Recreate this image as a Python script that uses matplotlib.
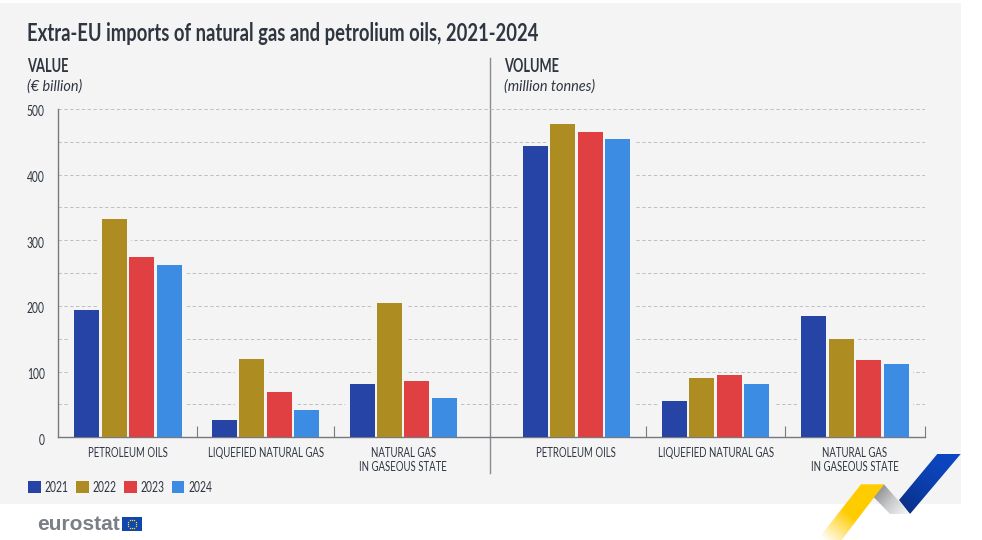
import os
import tempfile

import numpy as np
import matplotlib
matplotlib.use("Agg")
import matplotlib.pyplot as plt
from matplotlib import font_manager as fm
from matplotlib.patches import Patch, Polygon, Rectangle
from matplotlib.transforms import ScaledTranslation
from fontTools.ttLib import TTFont

YEARS = ["2021", "2022", "2023", "2024"]
CATEGORIES = ["PETROLEUM OILS", "LIQUEFIED NATURAL GAS", "NATURAL GAS\nIN GASEOUS STATE"]

# per year, in category order
VALUE_BN = {
    "2021": [194, 26, 81],
    "2022": [332, 119, 204],
    "2023": [275, 69, 86],
    "2024": [262, 42, 60],
}
VOLUME_MT = {
    "2021": [444, 56, 184],
    "2022": [477, 91, 149],
    "2023": [465, 95, 118],
    "2024": [454, 81, 112],
}

COLORS = ["#2644A6", "#AD8D22", "#E14042", "#3C8CE4"]
BG = "#F4F4F5"
INK = "#2F3640"
W, H = 982, 540
COND = "Lato Cond"
COND_TITLE = "Lato Cond Title"


def add_condensed(family, factor, **style):
    """No condensed face is installed, so squeeze a copy of Lato and register it."""
    src = fm.findfont(fm.FontProperties(family="Lato", **style))
    font = TTFont(src, fontNumber=0)
    glyf, hmtx = font["glyf"], font["hmtx"]
    for name in glyf.keys():
        g = glyf[name]
        if g.isComposite():
            for c in g.components:
                c.x = round(c.x * factor)
        elif g.numberOfContours > 0:
            g.coordinates.scale((factor, 1))
            g.coordinates.toInt()
        g.removeHinting()
    for name, (adv, lsb) in hmtx.metrics.items():
        hmtx.metrics[name] = (round(adv * factor), round(lsb * factor))
    for tag in ("fpgm", "prep", "cvt ", "hdmx", "VDMX", "LTSH", "GPOS", "kern"):
        if tag in font:
            del font[tag]
    for rec in font["name"].names:
        if rec.nameID in (1, 16):
            rec.string = family
    out = os.path.join(tempfile.mkdtemp(), os.path.basename(src))
    font.save(out)
    fm.fontManager.addfont(out)


add_condensed(COND, 0.68)
add_condensed(COND, 0.66, weight="bold")
add_condensed(COND, 0.95, style="italic")
add_condensed(COND_TITLE, 0.78, weight="bold")
plt.rcParams["font.family"] = [COND, "DejaVu Sans"]


def px_axes(fig, x0, x1, y_top, y_bot, **kw):
    return fig.add_axes([x0 / W, 1 - y_bot / H, (x1 - x0) / W, (y_bot - y_top) / H], **kw)


def draw_panel(ax, series, x_left, x_right, center0, pitch, seps, with_labels):
    ax.set_facecolor("none")
    ax.set_xlim((x_left - center0) / pitch, (x_right - center0) / pitch)
    ax.set_ylim(0, 500)
    x = np.arange(len(CATEGORIES))
    step, bar_w = 27.45 / pitch, 25 / pitch
    for i, year in enumerate(YEARS):
        # knock the gridlines out around the bars
        ax.bar(x + (i - 1.5) * step, series[year], step + 6 / pitch, color=BG, zorder=2)
    for i, (year, color) in enumerate(zip(YEARS, COLORS)):
        ax.bar(x + (i - 1.5) * step, series[year], bar_w, color=color, zorder=3)

    ax.set_yticks(np.arange(0, 501, 100))
    ax.set_yticks(np.arange(50, 500, 100), minor=True)
    ax.grid(axis="y", which="both", color="#BDBFC2", ls=(0, (3.5, 2.5)), lw=0.7, zorder=1)
    ax.set_axisbelow(True)
    ax.set_xticks(x)
    ax.set_xticklabels(CATEGORIES, fontsize=10.2, color=INK, linespacing=1.2)
    ax.set_xticks(seps, minor=True)
    ax.tick_params(axis="x", which="major", length=0, pad=7)
    ax.tick_params(axis="x", which="minor", direction="in", length=8, width=0.8, color="#77797D")
    ax.tick_params(axis="y", which="both", length=0)
    for s in ("top", "right", "left"):
        ax.spines[s].set_visible(False)
    ax.spines["bottom"].set_color("#77797D")
    ax.spines["bottom"].set_linewidth(1.0)
    if with_labels:
        ax.spines["left"].set_visible(True)
        ax.spines["left"].set_color("#77797D")
        ax.spines["left"].set_linewidth(1.0)
        ax.tick_params(axis="y", which="major", labelsize=11, labelcolor=INK, pad=9.5)
        off = ScaledTranslation(0, -2 / 100, ax.figure.dpi_scale_trans)
        for lbl in ax.get_yticklabels():
            lbl.set_transform(lbl.get_transform() + off)
    else:
        ax.tick_params(axis="y", which="both", labelleft=False)


def gradient_poly(ov, pts, colors, start, end):
    # linear gradient between two pixel points, clipped to the polygon
    pts = np.array(pts, float)
    x0, x1, y0, y1 = pts[:, 0].min(), pts[:, 0].max(), pts[:, 1].min(), pts[:, 1].max()
    xx, yy = np.meshgrid(np.linspace(x0, x1, 120), np.linspace(y0, y1, 120))
    d = np.array(end, float) - np.array(start, float)
    t = np.clip(((xx - start[0]) * d[0] + (yy - start[1]) * d[1]) / (d @ d), 0, 1)
    stops = np.array([matplotlib.colors.to_rgb(c) for c in colors])
    pos = np.linspace(0, 1, len(colors))
    img = np.dstack([np.interp(t, pos, stops[:, k]) for k in range(3)])
    im = ov.imshow(img, extent=(x0, x1, y1, y0), aspect="auto", zorder=5, interpolation="bilinear")
    im.set_clip_path(Polygon(pts, closed=True, transform=ov.transData))


fig = plt.figure(figsize=(W / 100, H / 100), dpi=100, facecolor="white")

# background layer in pixel coordinates
ov = fig.add_axes([0, 0, 1, 1], zorder=0)
ov.set_xlim(0, W)
ov.set_ylim(H, 0)
ov.axis("off")
ov.add_patch(Rectangle((0, 3), 961, 501, color=BG, lw=0, zorder=0))
ov.plot([490, 490], [58, 473], color="#8A8C90", lw=1.0, zorder=1)

ax_l = px_axes(fig, 58, 490, 109, 437.3, zorder=2)
draw_panel(ax_l, VALUE_BN, 58, 490, 128.0, 137.6, [0.5, 1.5], True)
ax_r = px_axes(fig, 490, 925.3, 109, 437.3, zorder=2)
draw_panel(ax_r, VOLUME_MT, 490, 925.3, 576.3, 139.35, [0.5, 1.5, 2.5], False)

ov.text(27, 33.5, "Extra-EU imports of natural gas and petrolium oils, 2021-2024",
        fontsize=17, fontweight="bold", color=INK, va="center", family=COND_TITLE)
ov.text(27, 66.5, "VALUE", fontsize=14, fontweight="bold", color=INK, va="center")
ov.text(27, 87, "(€ billion)", fontsize=11, style="italic", color=INK, va="center")
ov.text(504, 66.5, "VOLUME", fontsize=14, fontweight="bold", color=INK, va="center")
ov.text(504, 87, "(million tonnes)", fontsize=11, style="italic", color=INK, va="center")

handles = [Patch(facecolor=c, label=y) for c, y in zip(COLORS, YEARS)]
fig.legend(handles=handles, loc="center left", bbox_to_anchor=(28 / W, 1 - 488 / H), ncol=4,
           frameon=False, fontsize=11, labelcolor=INK, handlelength=0.85, handleheight=0.85,
           handletextpad=0.26, columnspacing=0.45, borderpad=0, borderaxespad=0)

# eurostat logo
ov.text(37.5, 524, "eurostat", fontsize=15, fontweight="bold", color="#7B7F86", va="center",
        family="Liberation Sans")
ov.add_patch(Rectangle((122, 517), 20, 14, color="#0F47AF", lw=0, zorder=3))
ang = np.arange(12) * np.pi / 6
ov.scatter(132 + 4.2 * np.cos(ang), 524 + 4.2 * np.sin(ang), s=1, color="#FFD617", lw=0, zorder=4)

# ribbon in the corner
gradient_poly(ov, [(937.3, 454), (960.7, 454), (910, 514), (899, 500)],
              ["#0C48C4", "#0B3FAE", "#0A2F86"], (950, 454), (903, 512))
gradient_poly(ov, [(884, 484.3), (910, 514), (890, 514), (873.3, 496.7)],
              ["#8F9092", "#C9CACB", "#F2F2F2"], (877, 490), (905, 514))
gradient_poly(ov, [(861, 484.3), (884, 484.3), (841.7, 540), (817.3, 540)],
              ["#FFCC00", "#FFCC00", "#FFFFFF"], (872, 485), (826, 542))

fig.savefig("out.png", dpi=100)
